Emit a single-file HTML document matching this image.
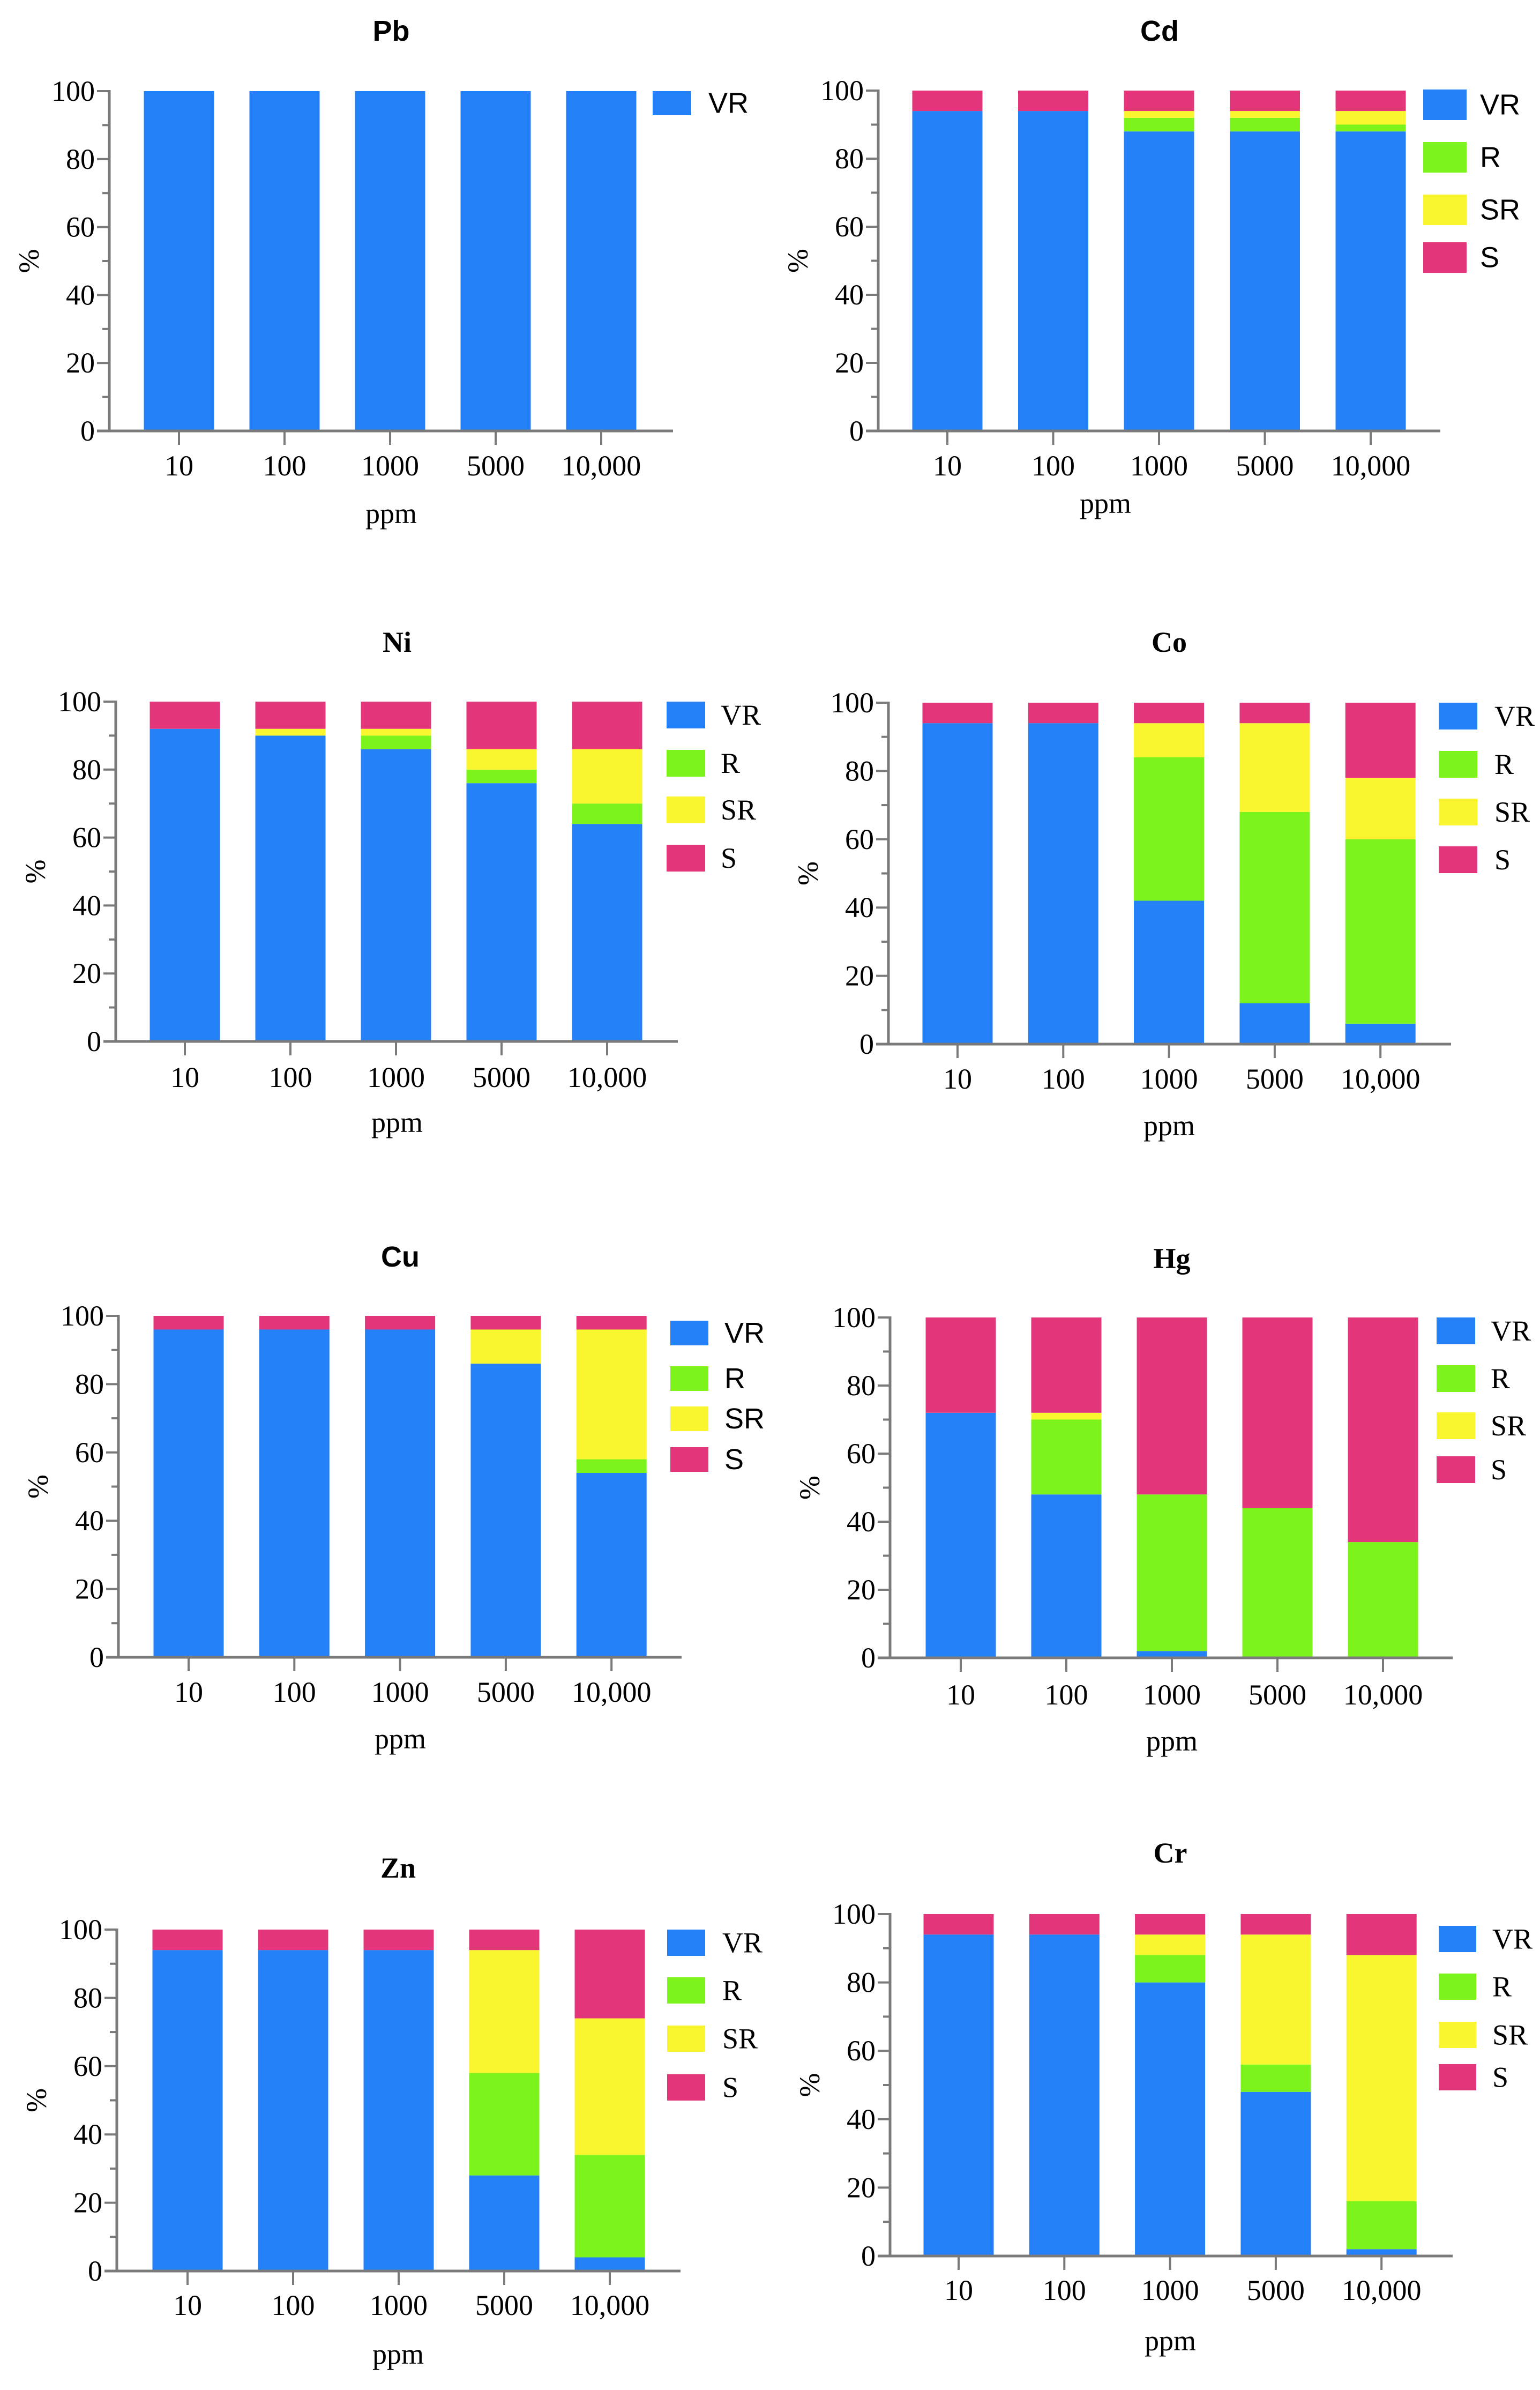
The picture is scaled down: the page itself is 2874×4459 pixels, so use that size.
<!DOCTYPE html>
<html><head><meta charset="utf-8"><style>
html,body{margin:0;padding:0;background:#fff;}
svg{display:block;}
</style></head><body>
<svg id="fig" xmlns="http://www.w3.org/2000/svg" width="2874" height="4459" viewBox="0 0 2874 4459"></svg>
<script>
const categories = ["10","100","1000","5000","10,000"];
const yTicks = [0,20,40,60,80,100];
const seriesNames = ["VR","R","SR","S"];
const seriesColors = ["#2380f7","#7cf41b","#f9f62f","#e2357a"];

const pbVR=[100,100,100,100,100];
const cdVR=[94,94,88,88,88], cdR=[0,0,4,4,2], cdSR=[0,0,2,2,4], cdS=[6,6,6,6,6];
const niVR=[92,90,86,76,64], niR=[0,0,4,4,6], niSR=[0,2,2,6,16], niS=[8,8,8,14,14];
const coVR=[94,94,42,12,6], coR=[0,0,42,56,54], coSR=[0,0,10,26,18], coS=[6,6,6,6,22];
const cuVR=[96,96,96,86,54], cuR=[0,0,0,0,4], cuSR=[0,0,0,10,38], cuS=[4,4,4,4,4];
const hgVR=[72,48,2,0,0], hgR=[0,22,46,44,34], hgSR=[0,2,0,0,0], hgS=[28,28,52,56,66];
const znVR=[94,94,94,28,4], znR=[0,0,0,30,30], znSR=[0,0,0,36,40], znS=[6,6,6,6,26];
const crVR=[94,94,80,48,2], crR=[0,0,8,8,14], crSR=[0,0,6,38,72], crS=[6,6,6,6,12];

const SANS='"Liberation Sans", sans-serif', SERIF='"Liberation Serif", serif';
const panels=[
 {id:"pb",title:"Pb",data:[pbVR],ax:204,y100:170,y0:804,c0:334,step:197,end:1256,tx:730,ty:58,ppmX:730,ppmY:958,tickY:869,lx:1218,lw:72,ly:[170],lh:45,textX:1322,tf:SANS,lf:SANS},
 {id:"cd",title:"Cd",data:[cdVR,cdR,cdSR,cdS],ax:1639,y100:169,y0:804,c0:1768,step:197.5,end:2688,tx:2164,ty:58,ppmX:2063,ppmY:939,tickY:869,lx:2656,lw:81,ly:[167,265,363,452],lh:57,textX:2762,tf:SANS,lf:SANS},
 {id:"ni",title:"Ni",data:[niVR,niR,niSR,niS],ax:216,y100:1309,y0:1943,c0:345,step:197,end:1265,tx:741,ty:1198,ppmX:741,ppmY:2094,tickY:2010,lx:1244,lw:72,ly:[1309,1399,1486,1576],lh:50,textX:1345,tf:SERIF,lf:SERIF},
 {id:"co",title:"Co",data:[coVR,coR,coSR,coS],ax:1658,y100:1311,y0:1948,c0:1787,step:197.3,end:2708,tx:2182,ty:1198,ppmX:2182,ppmY:2100,tickY:2013,lx:2685,lw:72,ly:[1311,1401,1490,1579],lh:50,textX:2789,tf:SERIF,lf:SERIF},
 {id:"cu",title:"Cu",data:[cuVR,cuR,cuSR,cuS],ax:221,y100:2455,y0:3092,c0:352,step:197.3,end:1272,tx:747,ty:2345,ppmX:747,ppmY:3244,tickY:3157,lx:1251,lw:71,ly:[2464,2549,2624,2700],lh:46,textX:1352,tf:SANS,lf:SANS},
 {id:"hg",title:"Hg",data:[hgVR,hgR,hgSR,hgS],ax:1661,y100:2458,y0:3093,c0:1793,step:197,end:2711,tx:2187,ty:2348,ppmX:2187,ppmY:3248,tickY:3162,lx:2681,lw:72,ly:[2458,2547,2635,2717],lh:50,textX:2782,tf:SERIF,lf:SERIF},
 {id:"zn",title:"Zn",data:[znVR,znR,znSR,znS],ax:218,y100:3600,y0:4237,c0:350,step:197,end:1270,tx:743,ty:3485,ppmX:743,ppmY:4392,tickY:4301,lx:1245,lw:71,ly:[3600,3689,3779,3870],lh:49,textX:1348,tf:SERIF,lf:SERIF},
 {id:"cr",title:"Cr",data:[crVR,crR,crSR,crS],ax:1661,y100:3571,y0:4209,c0:1789,step:197.3,end:2711,tx:2184,ty:3457,ppmX:2184,ppmY:4367,tickY:4273,lx:2685,lw:70,ly:[3593,3682,3772,3851],lh:49,textX:2785,tf:SERIF,lf:SERIF}
];
const NS="http://www.w3.org/2000/svg";
const svg=document.getElementById("fig");
function mk(tag,attrs,parent){const e=document.createElementNS(NS,tag);for(const k in attrs)e.setAttribute(k,attrs[k]);(parent||svg).appendChild(e);return e;}
const AX="#7a7a7a", BW=131;

panels.forEach(p=>{
  const g=mk("g",{});
  
  
  const y=v=>p.y0-(p.y100-p.y0)*-v/100;
  const x=i=>p.c0+i*p.step;
  // title
  const t=mk("text",{x:p.tx,y:p.ty,"font-family":p.tf,"font-size":54,"font-weight":"bold","text-anchor":"middle","dominant-baseline":"central",fill:"#000"},g);
  t.textContent=p.title;
  
  
  // bars
  p.data.forEach((arr,si)=>{
    let acc=new Array(categories.length).fill(0);
    for(let k=0;k<si;k++) p.data[k].forEach((v,i)=>acc[i]+=v);
    arr.forEach((v,i)=>{
      if(v<=0) return;
      const r=mk("rect",{x:x(i)-BW/2,y:y(acc[i]+v),width:BW,height:y(acc[i])-y(acc[i]+v),fill:seriesColors[si]},g);
      
      
    });
  });
  // y axis
  const ya=mk("line",{x1:p.ax,y1:p.y100-2,x2:p.ax,y2:p.y0,stroke:AX,"stroke-width":5},g);
  
  
  for(let v=0;v<=100;v+=10){
    const major=v%20===0;
    mk("line",{x1:p.ax-(major?23:13),y1:y(v),x2:p.ax,y2:y(v),stroke:AX,"stroke-width":4},g);
  }
  yTicks.forEach(v=>{
    const tl=mk("text",{x:p.ax-27,y:y(v),"font-family":SERIF,"font-size":54,"text-anchor":"end","dominant-baseline":"central",fill:"#000"},g);
    tl.textContent=String(v);
    
    
  });
  const yl=mk("text",{x:0,y:0,"font-family":SERIF,"font-size":54,"text-anchor":"middle","dominant-baseline":"central",fill:"#000",transform:"translate("+(p.ax-150)+","+((p.y0+p.y100)/2)+") rotate(-90)"},g);
  yl.textContent="%";
  
  
  // x axis
  const xa=mk("line",{x1:p.ax-23,y1:p.y0,x2:p.end,y2:p.y0,stroke:AX,"stroke-width":5},g);
  
  
  categories.forEach((c,i)=>{
    mk("line",{x1:x(i),y1:p.y0,x2:x(i),y2:p.y0+26,stroke:AX,"stroke-width":4},g);
    const xl=mk("text",{x:x(i),y:p.tickY,"font-family":SERIF,"font-size":54,"text-anchor":"middle","dominant-baseline":"central",fill:"#000"},g);
    xl.textContent=c;
    
    
  });
  const pl=mk("text",{x:p.ppmX,y:p.ppmY,"font-family":SERIF,"font-size":54,"text-anchor":"middle","dominant-baseline":"central",fill:"#000"},g);
  pl.textContent="ppm";
  
  
  // legend
  p.ly.forEach((ly,si)=>{
    const lr=mk("rect",{x:p.lx,y:ly,width:p.lw,height:p.lh,fill:seriesColors[si]},g);
    
    
    const lt=mk("text",{x:p.textX,y:ly+p.lh/2,"font-family":p.lf,"font-size":54,"dominant-baseline":"central",fill:"#000"},g);
    lt.textContent=seriesNames[si];
    
    
  });
});
</script>
</body></html>
